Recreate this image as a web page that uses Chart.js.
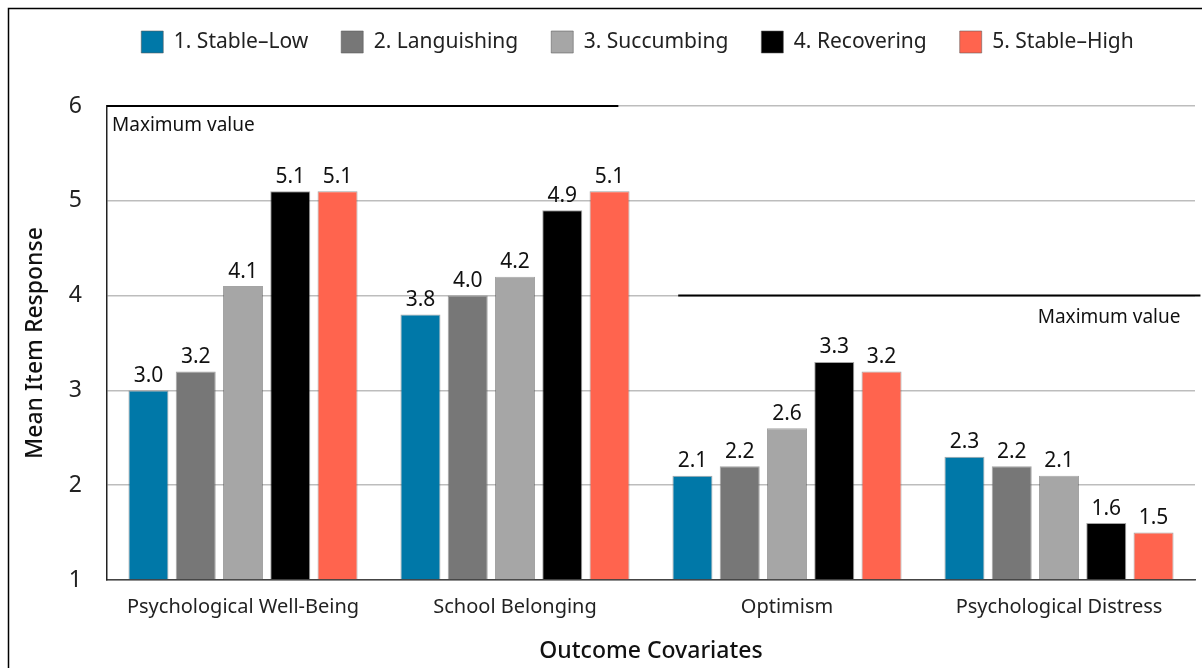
<!DOCTYPE html>
<html>
<head>
<meta charset="utf-8">
<script src="https://cdn.jsdelivr.net/npm/chart.js@4/dist/chart.umd.min.js"></script>
<style>
  html, body { margin: 0; padding: 0; background: #fff; }
  #wrap { width: 1202px; height: 668px; position: relative; }
</style>
</head>
<body>
<div id="wrap"><canvas id="c" width="1202" height="668"></canvas></div>
<script>
const categories = ['Psychological Well-Being', 'School Belonging', 'Optimism', 'Psychological Distress'];
const seriesNames = ['1. Stable–Low', '2. Languishing', '3. Succumbing', '4. Recovering', '5. Stable–High'];
const stableLow    = [3.0, 3.8, 2.1, 2.3];
const languishing  = [3.2, 4.0, 2.2, 2.2];
const succumbing   = [4.1, 4.2, 2.6, 2.1];
const recovering   = [5.1, 4.9, 3.3, 1.6];
const stableHigh   = [5.1, 5.1, 3.2, 1.5];
const seriesColors = ['#0078A8', '#777777', '#A6A6A6', '#000000', '#FF644E'];
const yTicks = [1, 2, 3, 4, 5, 6];
// "Maximum value" reference lines: value, start/end in category index units
const maxValues = [6, 4];
const maxFrom = [-0.5, 1.6];
const maxTo = [1.38, 3.52];
const maxLabel = 'Maximum value';

const FONT = '"Noto Sans", "Open Sans", sans-serif';
const seriesValues = [stableLow, languishing, succumbing, recovering, stableHigh];

const datasets = seriesNames.map((name, i) => ({
  label: name,
  data: seriesValues[i],
  base: 1,
  backgroundColor: seriesColors[i],
  borderColor: 'rgba(90,90,90,0.55)',
  borderWidth: 1,
  categoryPercentage: 0.869,
  barPercentage: 0.846
}));

const framePlugin = {
  id: 'frame',
  beforeInit(chart) {
    const lg = chart.legend;
    if (lg) {
      const origFit = lg.fit;
      lg.fit = function () { origFit.call(this); this.height = 101; };
      const origDraw = lg.draw;
      lg.draw = function () {
        const t = this.top, l = this.left, r = this.right;
        this.top = t - 7; this.left = l + 40; this.right = r + 40;
        origDraw.call(this);
        this.top = t; this.left = l; this.right = r;
      };
    }
  },
  beforeDraw(chart) {
    const ctx = chart.ctx;
    ctx.save();
    ctx.strokeStyle = '#000';
    ctx.lineWidth = 1.5;
    ctx.beginPath();
    ctx.moveTo(8.5, 668);
    ctx.lineTo(8.5, 8.5);
    ctx.lineTo(1202, 8.5);
    ctx.stroke();
    ctx.restore();
  },
  afterDatasetsDraw(chart) {
    const ctx = chart.ctx;
    const x = chart.scales.x, y = chart.scales.y;
    ctx.save();
    ctx.fillStyle = '#111';
    ctx.font = '21px ' + FONT;
    ctx.textAlign = 'center';
    ctx.textBaseline = 'bottom';
    chart.data.datasets.forEach((ds, di) => {
      const meta = chart.getDatasetMeta(di);
      meta.data.forEach((bar, j) => {
        ctx.fillText(Number(ds.data[j]).toFixed(1), bar.x, bar.y - 4);
      });
    });
    ctx.strokeStyle = '#000';
    ctx.lineWidth = 2;
    ctx.font = '19px ' + FONT;
    ctx.textBaseline = 'middle';
    maxValues.forEach((v, k) => {
      const py = y.getPixelForValue(v);
      const x0 = x.getPixelForValue(maxFrom[k]);
      const x1 = x.getPixelForValue(maxTo[k]);
      ctx.beginPath();
      ctx.moveTo(x0, py);
      ctx.lineTo(x1, py);
      ctx.stroke();
      if (k === 0) {
        ctx.textAlign = 'left';
        ctx.fillText(maxLabel, x0 + 5, py + 20);
      } else {
        ctx.textAlign = 'right';
        ctx.fillText(maxLabel, x1 - 20, py + 22);
      }
    });
    ctx.restore();
  }
};

new Chart(document.getElementById('c'), {
  type: 'bar',
  data: { labels: categories, datasets },
  options: {
    responsive: false,
    animation: false,
    devicePixelRatio: 1,
    layout: { padding: { top: 5, right: 7, bottom: 0, left: 0 } },
    plugins: {
      legend: {
        position: 'top',
        labels: {
          boxWidth: 22,
          boxHeight: 22,
          padding: 33,
          color: '#222',
          font: { family: FONT, size: 21 }
        }
      },
      tooltip: { enabled: false }
    },
    scales: {
      x: {
        grid: { display: false, drawTicks: false },
        border: { display: true, color: '#444', width: 1.5 },
        ticks: { color: '#222', font: { family: FONT, size: 20 }, padding: 15, maxRotation: 0 },
        title: { display: true, text: 'Outcome Covariates', color: '#111',
                 font: { family: FONT, size: 23, weight: '500' }, padding: { top: 0, bottom: 3 } },
        afterFit(s) { s.height = 88; }
      },
      y: {
        min: 1, max: 6,
        afterBuildTicks(s) { s.ticks = yTicks.map(v => ({ value: v })); },
        grid: { color: '#bdbdbd', lineWidth: 1.5, drawTicks: false },
        border: { display: true, color: '#222', width: 1.5 },
        ticks: { color: '#222', font: { family: FONT, size: 23 }, padding: 25 },
        title: { display: true, text: 'Mean Item Response', color: '#111',
                 font: { family: FONT, size: 23, weight: '500' }, padding: { top: 22, bottom: 0 } },
        afterFit(s) { s.width = 107; }
      }
    }
  },
  plugins: [framePlugin]
});
</script>
</body>
</html>
